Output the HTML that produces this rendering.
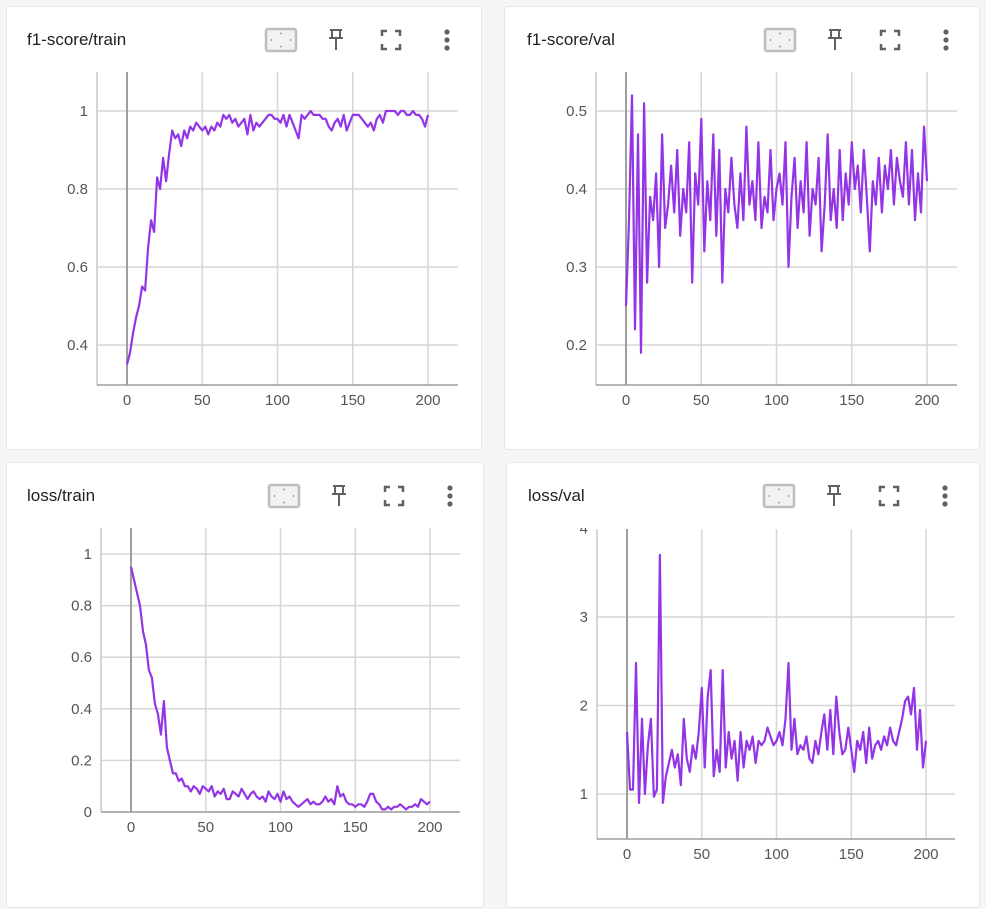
<!DOCTYPE html>
<html><head><meta charset="utf-8"><style>
body{margin:0;width:986px;height:909px;background:#f4f5f7;font-family:"Liberation Sans",Roboto,sans-serif;position:relative;overflow:hidden}
.card{position:absolute;background:#fff;border:1px solid #e6e6e6;border-radius:4px}
.title{position:absolute;font-size:17px;color:#212121}
svg{position:absolute;left:0;top:0}
</style></head><body>
<div class="card" style="left:6px;top:6px;width:474px;height:442px"></div>
<div class="card" style="left:504px;top:6px;width:474px;height:442px"></div>
<div class="card" style="left:6px;top:462px;width:476px;height:444px"></div>
<div class="card" style="left:506px;top:462px;width:472px;height:444px"></div>
<div class="title" style="left:27px;top:30px">f1-score/train</div>
<div class="title" style="left:527px;top:30px">f1-score/val</div>
<div class="title" style="left:27px;top:486px">loss/train</div>
<div class="title" style="left:528px;top:486px">loss/val</div>
<svg id="s" width="986" height="909"></svg>
<script>
const f1TrainValues=[0.35,0.38,0.43,0.47,0.50,0.55,0.54,0.65,0.72,0.69,0.83,0.80,0.88,0.82,0.89,0.95,0.93,0.94,0.91,0.95,0.93,0.96,0.95,0.97,0.96,0.95,0.96,0.94,0.96,0.95,0.97,0.96,0.99,0.98,0.99,0.97,0.98,0.96,0.97,0.98,0.94,0.99,0.95,0.97,0.96,0.97,0.98,0.99,0.99,0.98,0.98,0.97,0.99,0.96,0.99,0.97,0.95,0.93,0.99,0.98,0.99,1.0,0.99,0.99,0.99,0.98,0.98,0.96,0.95,0.97,0.98,0.96,0.99,0.95,0.97,0.99,0.99,0.99,0.98,0.97,0.96,0.97,0.95,0.98,0.99,0.97,1.0,1.0,1.0,1.0,0.99,1.0,1.0,0.99,0.99,1.0,0.99,0.99,0.98,0.96,0.99];
const f1ValValues=[0.25,0.36,0.52,0.22,0.47,0.19,0.51,0.28,0.39,0.36,0.42,0.30,0.47,0.35,0.38,0.43,0.37,0.45,0.34,0.40,0.37,0.46,0.28,0.42,0.38,0.49,0.32,0.41,0.36,0.47,0.34,0.45,0.28,0.40,0.37,0.44,0.38,0.35,0.42,0.36,0.48,0.38,0.41,0.36,0.46,0.35,0.39,0.37,0.45,0.36,0.40,0.42,0.38,0.46,0.30,0.39,0.44,0.35,0.41,0.37,0.46,0.34,0.40,0.38,0.44,0.32,0.38,0.47,0.36,0.40,0.35,0.45,0.36,0.42,0.38,0.46,0.40,0.43,0.37,0.45,0.39,0.32,0.41,0.38,0.44,0.37,0.43,0.40,0.45,0.38,0.44,0.41,0.39,0.46,0.38,0.45,0.36,0.42,0.37,0.48,0.41];
const lossTrainValues=[0.95,0.90,0.85,0.80,0.70,0.65,0.55,0.52,0.42,0.38,0.30,0.43,0.25,0.20,0.15,0.15,0.12,0.13,0.10,0.10,0.08,0.10,0.09,0.07,0.10,0.09,0.08,0.10,0.06,0.08,0.07,0.09,0.05,0.05,0.08,0.07,0.06,0.09,0.07,0.05,0.07,0.08,0.06,0.05,0.06,0.04,0.08,0.06,0.05,0.07,0.04,0.08,0.05,0.06,0.04,0.03,0.02,0.03,0.04,0.05,0.03,0.04,0.03,0.03,0.04,0.06,0.04,0.05,0.03,0.10,0.06,0.07,0.04,0.03,0.03,0.02,0.03,0.03,0.02,0.04,0.07,0.07,0.04,0.03,0.01,0.01,0.02,0.01,0.02,0.02,0.03,0.02,0.01,0.02,0.02,0.03,0.02,0.05,0.04,0.03,0.04];
const lossValValues=[1.7,1.05,1.05,2.48,0.9,1.85,1.0,1.55,1.85,0.97,1.05,3.7,0.9,1.2,1.35,1.5,1.3,1.45,1.1,1.85,1.4,1.25,1.55,1.4,1.7,2.2,1.3,2.1,2.4,1.2,1.5,1.25,2.4,1.3,1.7,1.4,1.6,1.15,1.7,1.3,1.6,1.5,1.65,1.35,1.6,1.55,1.6,1.75,1.65,1.55,1.6,1.7,1.55,1.85,2.48,1.5,1.85,1.45,1.55,1.5,1.65,1.4,1.35,1.6,1.45,1.7,1.9,1.5,1.95,1.45,2.1,1.7,1.45,1.5,1.75,1.5,1.25,1.6,1.5,1.7,1.35,1.75,1.4,1.55,1.6,1.5,1.65,1.55,1.75,1.6,1.55,1.7,1.85,2.05,2.1,1.9,2.2,1.5,1.95,1.3,1.6];
const xTicks=[0,50,100,150,200];
const f1TrainTicks=[0.4,0.6,0.8,1];
const f1ValTicks=[0.2,0.3,0.4,0.5];
const lossTrainTicks=[0,0.2,0.4,0.6,0.8,1];
const lossValTicks=[1,2,3,4];
const S=document.getElementById('s');const NS='http://www.w3.org/2000/svg';
function mk(t,a,p){const e=document.createElementNS(NS,t);for(const k in a)e.setAttribute(k,a[k]);(p||S).appendChild(e);return e;}
function chart(name,vals,ticks,c){
 const g=mk('g',{});
 
 
 const X=v=>c.x0+(v-0)*(c.x200-c.x0)/200;
 const Y=v=>c.yA+(v-c.vA)*(c.yB-c.yA)/(c.vB-c.vA);
 xTicks.forEach(t=>{const l=mk('line',{x1:X(t),x2:X(t),y1:c.top,y2:c.bot,stroke:'#d6d6d6','stroke-width':1.5},g);
  
  const tx=mk('text',{x:X(t),y:c.bot+20,'text-anchor':'middle','font-size':15,fill:'#555'},g);tx.textContent=t;
  });
 const clip=mk('clipPath',{id:'c'+name},g);mk('rect',{x:0,y:c.top-1,width:986,height:c.bot-c.top+30},clip);
 const tg=mk('g',{'clip-path':'url(#c'+name+')'},g);
 ticks.forEach(t=>{if(Y(t)>=c.top+2){const l=mk('line',{x1:c.left,x2:c.right,y1:Y(t),y2:Y(t),stroke:'#d6d6d6','stroke-width':1.5},g);
  }
  const tx=mk('text',{x:c.left-9,y:Y(t)+5,'text-anchor':'end','font-size':15,fill:'#555'},tg);tx.textContent=t;
  });
 const z=mk('line',{x1:X(0),x2:X(0),y1:c.top,y2:c.bot,stroke:'#9e9e9e','stroke-width':2},g);
 
 const ay=mk('line',{x1:c.left,x2:c.left,y1:c.top,y2:c.bot,stroke:'#c8c8c8','stroke-width':1.5},g);
 
 const ax=mk('line',{x1:c.left,x2:c.right,y1:c.bot,y2:c.bot,stroke:'#9e9e9e','stroke-width':1.5},g);
 
 const d=vals.map((v,i)=>(i?'L':'M')+X(i*2).toFixed(1)+','+Y(v).toFixed(1)).join('');
 const p=mk('path',{d:d,fill:'none',stroke:'#9334e6','stroke-width':2.2,'stroke-linejoin':'round'},g);
 
 const ix=c.iconX,iy=c.iconY;
 const ic=mk('g',{fill:'none',stroke:'#616161','stroke-width':2},g);
 
 const b=mk('rect',{x:ix-15,y:iy-11,width:30,height:22,rx:2,stroke:'#bdbdbd','stroke-width':2.5,fill:'#f2f2f2'},ic);
 
 mk('path',{d:`M${ix-1},${iy-6}l1,-1l1,1M${ix-1},${iy+6}l1,1l1,-1M${ix-9},${iy-1}l-1,1l1,1M${ix+9},${iy-1}l1,1l-1,1`,stroke:'#9e9e9e','stroke-width':1},ic);
 const pin=mk('path',{d:`M${ix+49},${iy-10}h12M${ix+51},${iy-10}v8h8v-8M${ix+48},${iy-2}h14M${ix+55},${iy-2}v12`},ic);
 
 const fx=ix+110;
 const fs=mk('path',{d:`M${fx-9},${iy-4}v-5h5M${fx+4},${iy-9}h5v5M${fx+9},${iy+4}v5h-5M${fx-4},${iy+9}h-5v-5`,'stroke-width':2.5},ic);
 
 const mx=ix+166;
 [-8,0,8].forEach(o=>{const c2=mk('circle',{cx:mx,cy:iy+o,r:2.6,fill:'#616161',stroke:'none'},ic);
  });
}
chart('chart-f1-train',f1TrainValues,f1TrainTicks,{x0:127,x200:428,left:97,right:458,top:72,bot:385,yA:111,vA:1,yB:345,vB:0.4,iconX:281,iconY:40});
chart('chart-f1-val',f1ValValues,f1ValTicks,{x0:626,x200:927,left:596,right:957,top:72,bot:385,yA:111,vA:0.5,yB:345,vB:0.2,iconX:780,iconY:40});
chart('chart-loss-train',lossTrainValues,lossTrainTicks,{x0:131,x200:430,left:101,right:460,top:528,bot:812,yA:554,vA:1,yB:812,vB:0,iconX:284,iconY:496});
chart('chart-loss-val',lossValValues,lossValTicks,{x0:627,x200:926,left:597,right:955,top:529,bot:839,yA:617,vA:3,yB:794,vB:1,iconX:779,iconY:496});
</script>
</body></html>
